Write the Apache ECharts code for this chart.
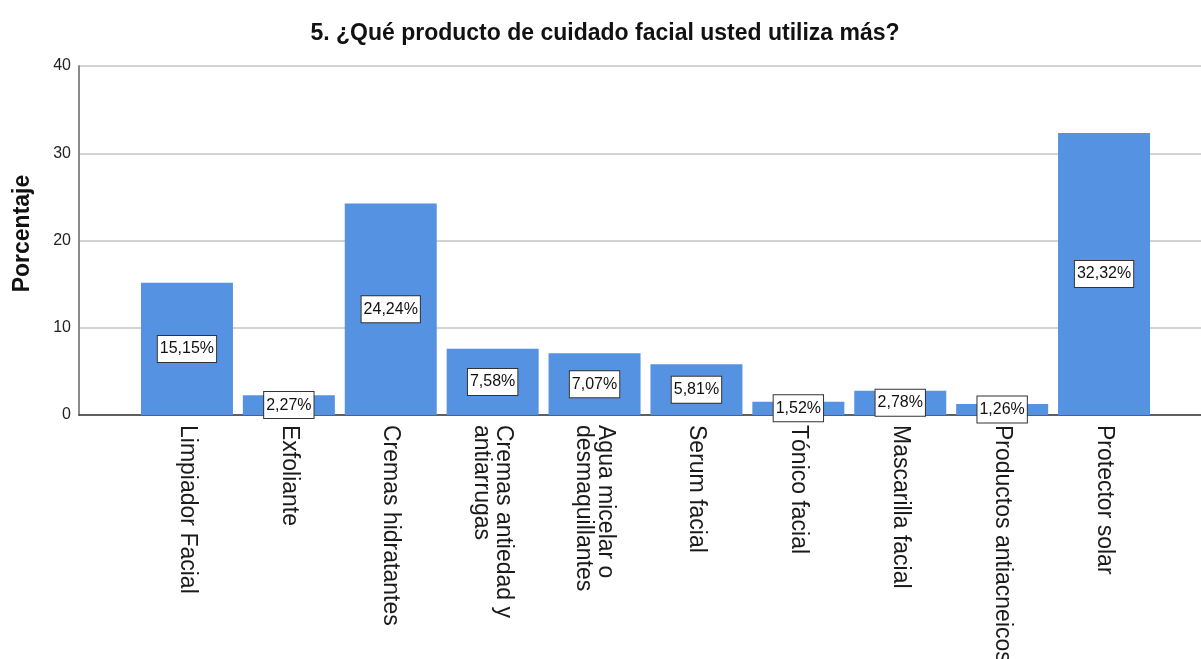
<!DOCTYPE html>
<html>
<head>
<meta charset="utf-8">
<script src="https://cdn.jsdelivr.net/npm/echarts@6/dist/echarts.min.js"></script>
<style>
  html, body { margin: 0; padding: 0; background: #fff; }
  #chart { width: 1201px; height: 659px; }
</style>
</head>
<body>
<div id="chart"></div>
<script>
// Product categories and the share of respondents (%) for each
const categories = [
  'Limpiador Facial',
  'Exfoliante',
  'Cremas hidratantes',
  'Cremas antiedad y\nantiarrugas',
  'Agua micelar o\ndesmaquillantes',
  'Serum facial',
  'Tónico facial',
  'Mascarilla facial',
  'Productos antiacneicos',
  'Protector solar'
];
const percentages = [15.15, 2.27, 24.24, 7.58, 7.07, 5.81, 1.52, 2.78, 1.26, 32.32];
const yTicks = { min: 0, max: 40, interval: 10 };

const FONT = 'Liberation Sans, Arial, Helvetica, sans-serif';
const chart = echarts.init(document.getElementById('chart'), null, { renderer: 'canvas' });

const plotTop = 66;
const plotHeight = 349;

chart.setOption({
  backgroundColor: '#ffffff',
  animation: false,
  title: {
    text: '5. ¿Qué producto de cuidado facial usted utiliza más?',
    left: 600,
    textAlign: 'center',
    top: 17,
    textStyle: { fontFamily: FONT, fontSize: 23, fontWeight: 'bold', color: '#111' }
  },
  grid: [
    // frame grid: value axis, gridlines and baseline across the full width
    { left: 79, right: 0, top: plotTop, height: plotHeight, outerBoundsMode: 'none', containLabel: false },
    // bar grid: categories sit inside a narrower band
    { left: 136, right: 46, top: plotTop, height: plotHeight, outerBoundsMode: 'none', containLabel: false }
  ],
  xAxis: [
    {
      gridIndex: 0, type: 'value', min: 0, max: 1,
      axisLine: { show: true, lineStyle: { color: '#3a3a3a', width: 1.5 } },
      axisTick: { show: false }, axisLabel: { show: false }, splitLine: { show: false }
    },
    {
      gridIndex: 1, type: 'category', data: categories,
      axisLine: { show: false }, axisTick: { show: false },
      axisLabel: {
        rotate: -90, margin: 10, interval: 0,
        fontFamily: FONT, fontSize: 23, color: '#1a1a1a', lineHeight: 22
      }
    }
  ],
  yAxis: [
    {
      gridIndex: 0, type: 'value', min: yTicks.min, max: yTicks.max, interval: yTicks.interval,
      name: 'Porcentaje', nameLocation: 'middle', nameGap: 45,
      nameTextStyle: { fontFamily: FONT, fontSize: 23, fontWeight: 'bold', color: '#111', padding: [0, 0, 0, 14] },
      axisLine: { show: true, lineStyle: { color: '#8a8a8a', width: 2 } },
      axisTick: { show: false },
      axisLabel: { fontFamily: FONT, fontSize: 16, color: '#222', margin: 8 },
      splitLine: { show: true, lineStyle: { color: '#c4c4c4', width: 1.5 } }
    },
    {
      gridIndex: 1, type: 'value', min: yTicks.min, max: yTicks.max, interval: yTicks.interval,
      show: false, splitLine: { show: false }
    }
  ],
  series: [{
    type: 'bar',
    xAxisIndex: 1, yAxisIndex: 1,
    data: percentages,
    barWidth: 92,
    itemStyle: { color: '#5592e1' },
    label: {
      show: true,
      position: 'inside',
      formatter: p => p.value.toFixed(2).replace('.', ',') + '%',
      fontFamily: FONT, fontSize: 16, color: '#111',
      backgroundColor: '#ffffff', borderColor: '#333', borderWidth: 1,
      padding: [5, 2, 5, 2]
    }
  }]
});
</script>
</body>
</html>
